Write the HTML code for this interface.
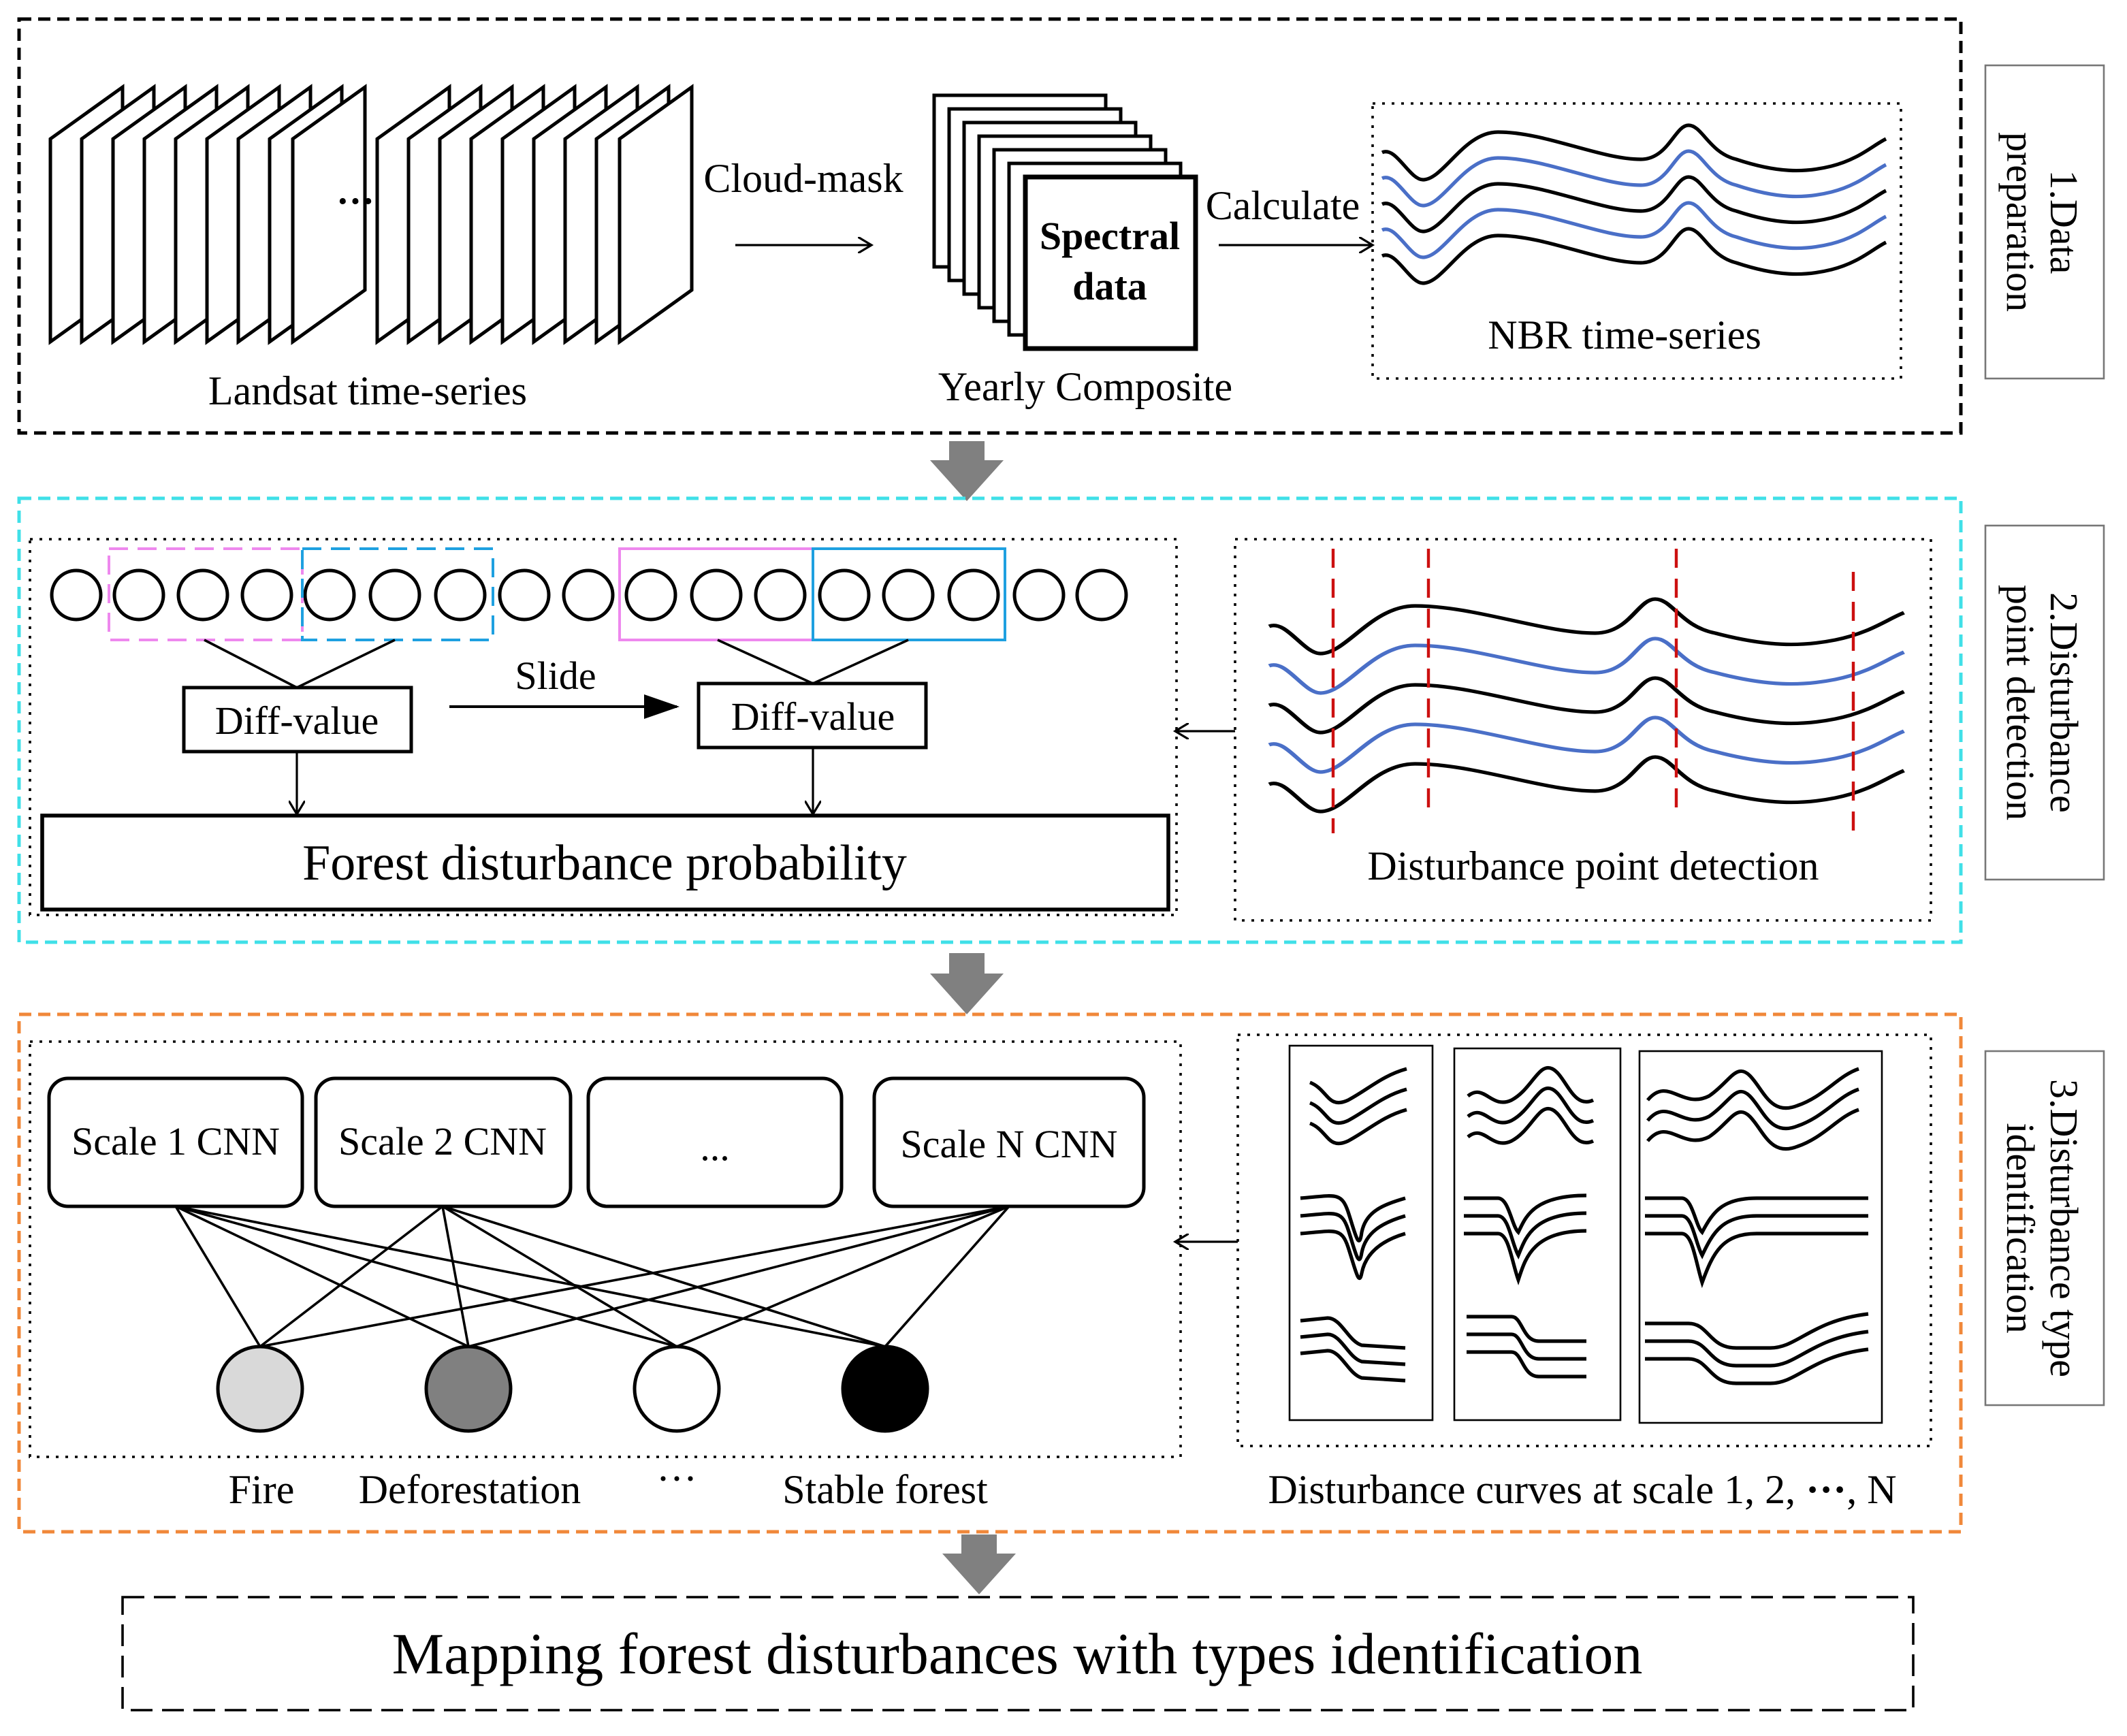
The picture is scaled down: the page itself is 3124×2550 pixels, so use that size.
<!DOCTYPE html>
<html><head><meta charset="utf-8"><style>html,body{margin:0;padding:0;background:#fff}svg{display:block}</style></head><body>
<svg width="3124" height="2550" viewBox="0 0 1562 1275" xmlns="http://www.w3.org/2000/svg" font-family="Liberation Serif, serif">
<defs>
<path id="w" fill="none" stroke-width="2.6" d="M0,0 C10,-5 20,20 30,20 C45,20 60,-15 85,-15 C120,-15 160,5 190,5 C210,5 215,-20 225,-20 C235,-20 240,0 260,5 C290,15 310,15 330,10 C350,5 360,-5 370,-10"/>
<marker id="oa" markerWidth="12" markerHeight="12" refX="10" refY="6" orient="auto" markerUnits="userSpaceOnUse"><path d="M0,0 L10,6 L0,12" fill="none" stroke="#000" stroke-width="1.6"/></marker>
<marker id="fa" markerWidth="26" markerHeight="18" refX="24" refY="9" orient="auto" markerUnits="userSpaceOnUse"><path d="M0,0 L26,9 L0,18 Z" fill="#000"/></marker>
</defs>
<rect width="1562" height="1275" fill="#fff"/>

<!-- Section 1 -->
<rect x="14" y="14" width="1426" height="304" fill="none" stroke="#000" stroke-width="2.5" stroke-dasharray="9,5"/>
<rect x="1458" y="48" width="87" height="230" fill="none" stroke="#777" stroke-width="1.3"/>
<text transform="translate(1506,163) rotate(90)" font-size="29" text-anchor="middle">1.Data</text>
<text transform="translate(1474,163) rotate(90)" font-size="29" text-anchor="middle">preparation</text>

<g fill="#fff" stroke="#000" stroke-width="2.5">
<polygon points="37,102 90,64 90,213 37,251"/>
<polygon points="60,102 113,64 113,213 60,251"/>
<polygon points="83,102 136,64 136,213 83,251"/>
<polygon points="106,102 159,64 159,213 106,251"/>
<polygon points="129,102 182,64 182,213 129,251"/>
<polygon points="152,102 205,64 205,213 152,251"/>
<polygon points="175,102 228,64 228,213 175,251"/>
<polygon points="198,102 251,64 251,213 198,251"/>
<polygon points="215,102 268,64 268,213 215,251"/>
<polygon points="277,102 330,64 330,213 277,251"/>
<polygon points="300,102 353,64 353,213 300,251"/>
<polygon points="323,102 376,64 376,213 323,251"/>
<polygon points="346,102 399,64 399,213 346,251"/>
<polygon points="369,102 422,64 422,213 369,251"/>
<polygon points="392,102 445,64 445,213 392,251"/>
<polygon points="415,102 468,64 468,213 415,251"/>
<polygon points="438,102 491,64 491,213 438,251"/>
<polygon points="455,102 508,64 508,213 455,251"/>
</g>
<text x="261" y="157" font-size="28" text-anchor="middle" font-weight="bold">···</text>
<text x="270" y="297" font-size="30" text-anchor="middle">Landsat time-series</text>
<text x="590" y="141" font-size="30" text-anchor="middle">Cloud-mask</text>
<line x1="540" y1="180" x2="640" y2="180" stroke="#000" stroke-width="1.6" marker-end="url(#oa)"/>

<g fill="#fff" stroke="#000" stroke-width="2.5">
<rect x="686" y="70" width="126" height="126"/>
<rect x="697" y="80" width="126" height="126"/>
<rect x="708" y="90" width="126" height="126"/>
<rect x="719" y="100" width="126" height="126"/>
<rect x="730" y="110" width="126" height="126"/>
<rect x="741" y="120" width="126" height="126"/>
<rect x="753" y="130" width="125" height="126" stroke-width="3.5"/>
</g>
<text x="815" y="183" font-size="29" font-weight="bold" text-anchor="middle">Spectral</text>
<text x="815" y="220" font-size="29" font-weight="bold" text-anchor="middle">data</text>
<text x="797" y="294" font-size="30" text-anchor="middle">Yearly Composite</text>
<text x="942" y="161" font-size="30" text-anchor="middle">Calculate</text>
<line x1="895" y1="180" x2="1008" y2="180" stroke="#000" stroke-width="1.6" marker-end="url(#oa)"/>

<rect x="1008" y="76" width="388" height="202" fill="none" stroke="#000" stroke-width="1.8" stroke-dasharray="2,5"/>
<use href="#w" x="1015" y="112" stroke="#000"/>
<use href="#w" x="1015" y="131" stroke="#4a6fc7"/>
<use href="#w" x="1015" y="150" stroke="#000"/>
<use href="#w" x="1015" y="169" stroke="#4a6fc7"/>
<use href="#w" x="1015" y="188" stroke="#000"/>
<text x="1193" y="256" font-size="30" text-anchor="middle">NBR time-series</text>

<!-- gray arrows -->
<g fill="#808080">
<polygon points="697,324 723,324 723,338 737,338 710,368 683,338 697,338"/>
<polygon points="697,700 723,700 723,715 737,715 710,745 683,715 697,715"/>
<polygon points="706,1127 732,1127 732,1141 746,1141 719,1171 692,1141 706,1141"/>
</g>

<!-- Section 2 -->
<rect x="14" y="366" width="1426" height="326" fill="none" stroke="#40e0e8" stroke-width="2.5" stroke-dasharray="9,5"/>
<rect x="1458" y="386" width="87" height="260" fill="none" stroke="#777" stroke-width="1.3"/>
<text transform="translate(1506,516) rotate(90)" font-size="29" text-anchor="middle">2.Disturbance</text>
<text transform="translate(1474,516) rotate(90)" font-size="29" text-anchor="middle">point detection</text>

<rect x="22" y="396" width="842" height="276" fill="none" stroke="#000" stroke-width="1.8" stroke-dasharray="2,5"/>
<g fill="#fff" stroke="#000" stroke-width="2.5">
<circle cx="56" cy="437" r="18"/><circle cx="102" cy="437" r="18"/><circle cx="149" cy="437" r="18"/><circle cx="196" cy="437" r="18"/><circle cx="242" cy="437" r="18"/><circle cx="290" cy="437" r="18"/><circle cx="338" cy="437" r="18"/><circle cx="385" cy="437" r="18"/><circle cx="432" cy="437" r="18"/><circle cx="478" cy="437" r="18"/><circle cx="526" cy="437" r="18"/><circle cx="573" cy="437" r="18"/><circle cx="620" cy="437" r="18"/><circle cx="667" cy="437" r="18"/><circle cx="715" cy="437" r="18"/><circle cx="763" cy="437" r="18"/><circle cx="809" cy="437" r="18"/>
</g>
<rect x="80" y="403" width="142" height="67" fill="none" stroke="#ee88ee" stroke-width="2" stroke-dasharray="14,7"/>
<rect x="222" y="403" width="140" height="67" fill="none" stroke="#1ea0e0" stroke-width="2" stroke-dasharray="14,7"/>
<rect x="455" y="403" width="142" height="67" fill="none" stroke="#ee88ee" stroke-width="2"/>
<rect x="597" y="403" width="141" height="67" fill="none" stroke="#1ea0e0" stroke-width="2"/>
<g stroke="#000" stroke-width="1.8">
<line x1="150" y1="470" x2="218" y2="505"/><line x1="290" y1="470" x2="218" y2="505"/>
<line x1="527" y1="470" x2="597" y2="502"/><line x1="667" y1="470" x2="597" y2="502"/>
</g>
<rect x="135" y="505" width="167" height="47" fill="#fff" stroke="#000" stroke-width="2.5"/>
<text x="218" y="539" font-size="29" text-anchor="middle">Diff-value</text>
<rect x="513" y="502" width="167" height="47" fill="#fff" stroke="#000" stroke-width="2.5"/>
<text x="597" y="536" font-size="29" text-anchor="middle">Diff-value</text>
<text x="408" y="506" font-size="29" text-anchor="middle">Slide</text>
<line x1="330" y1="519" x2="497" y2="519" stroke="#000" stroke-width="2" marker-end="url(#fa)"/>
<line x1="218" y1="552" x2="218" y2="598" stroke="#000" stroke-width="1.6" marker-end="url(#oa)"/>
<line x1="597" y1="549" x2="597" y2="598" stroke="#000" stroke-width="1.6" marker-end="url(#oa)"/>
<rect x="31" y="599" width="827" height="69" fill="#fff" stroke="#000" stroke-width="2.8"/>
<text x="444" y="646" font-size="37" text-anchor="middle">Forest disturbance probability</text>

<rect x="907" y="396" width="511" height="280" fill="none" stroke="#000" stroke-width="1.8" stroke-dasharray="2,5"/>
<g transform="translate(932,0) scale(1.26,1)">
<use href="#w" x="0" y="460" stroke="#000"/>
<use href="#w" x="0" y="489" stroke="#4a6fc7"/>
<use href="#w" x="0" y="518" stroke="#000"/>
<use href="#w" x="0" y="547" stroke="#4a6fc7"/>
<use href="#w" x="0" y="576" stroke="#000"/>
</g>
<g stroke="#cc1010" stroke-width="2.2" stroke-dasharray="14,8">
<line x1="979" y1="403" x2="979" y2="612"/><line x1="1049" y1="403" x2="1049" y2="600"/><line x1="1231" y1="403" x2="1231" y2="600"/><line x1="1361" y1="420" x2="1361" y2="615"/>
</g>
<text x="1170" y="646" font-size="30" text-anchor="middle">Disturbance point detection</text>
<line x1="907" y1="537" x2="863" y2="537" stroke="#000" stroke-width="1.6" marker-end="url(#oa)"/>

<!-- Section 3 -->
<rect x="14" y="745" width="1426" height="380" fill="none" stroke="#f0883a" stroke-width="2.5" stroke-dasharray="9,5"/>
<rect x="1458" y="772" width="87" height="260" fill="none" stroke="#777" stroke-width="1.3"/>
<text transform="translate(1506,902) rotate(90)" font-size="29" text-anchor="middle">3.Disturbance type</text>
<text transform="translate(1474,902) rotate(90)" font-size="29" text-anchor="middle">identification</text>

<rect x="22" y="765" width="845" height="305" fill="none" stroke="#000" stroke-width="1.8" stroke-dasharray="2,5"/>
<g stroke="#000" stroke-width="1.8">
<line x1="129" y1="886" x2="191" y2="989"/><line x1="129" y1="886" x2="344" y2="989"/><line x1="129" y1="886" x2="497" y2="989"/><line x1="129" y1="886" x2="650" y2="989"/>
<line x1="325" y1="886" x2="191" y2="989"/><line x1="325" y1="886" x2="344" y2="989"/><line x1="325" y1="886" x2="497" y2="989"/><line x1="325" y1="886" x2="650" y2="989"/>
<line x1="741" y1="886" x2="191" y2="989"/><line x1="741" y1="886" x2="344" y2="989"/><line x1="741" y1="886" x2="497" y2="989"/><line x1="741" y1="886" x2="650" y2="989"/>
</g>
<g fill="#fff" stroke="#000" stroke-width="2.5">
<rect x="36" y="792" width="186" height="94" rx="14"/>
<rect x="232" y="792" width="187" height="94" rx="14"/>
<rect x="432" y="792" width="186" height="94" rx="14"/>
<rect x="642" y="792" width="198" height="94" rx="14"/>
</g>
<g font-size="29" text-anchor="middle">
<text x="129" y="848">Scale 1 CNN</text><text x="325" y="848">Scale 2 CNN</text><text x="525" y="852">...</text><text x="741" y="850">Scale N CNN</text>
</g>
<g stroke="#000" stroke-width="2.5">
<circle cx="191" cy="1020" r="31" fill="#d9d9d9"/><circle cx="344" cy="1020" r="31" fill="#808080"/><circle cx="497" cy="1020" r="31" fill="#fff"/><circle cx="650" cy="1020" r="31" fill="#000"/>
</g>
<g font-size="30" text-anchor="middle">
<text x="192" y="1104">Fire</text><text x="345" y="1104">Deforestation</text><text x="497" y="1096">···</text><text x="650" y="1104">Stable forest</text>
</g>

<rect x="909" y="760" width="509" height="302" fill="none" stroke="#000" stroke-width="1.8" stroke-dasharray="2,5"/>
<g fill="none" stroke="#000" stroke-width="1.3">
<rect x="947" y="768" width="105" height="275"/><rect x="1068" y="770" width="122" height="273"/><rect x="1204" y="772" width="178" height="273"/>
</g>
<g fill="none" stroke="#000" stroke-width="2.6">
<path d="M962,795 C975,800 975,815 990,808 C1005,800 1015,790 1033,785"/>
<path d="M962,810 C975,815 975,830 990,823 C1005,815 1015,805 1033,800"/>
<path d="M962,825 C975,830 975,845 990,838 C1005,830 1015,820 1033,815"/>
<path d="M955,880 C980,878 985,875 990,890 C995,905 998,920 1000,905 C1003,890 1015,885 1032,880"/>
<path d="M955,893 C980,891 985,888 990,903 C995,918 998,933 1000,920 C1003,905 1015,898 1032,893"/>
<path d="M955,906 C980,904 985,901 990,916 C995,931 998,946 1000,935 C1003,920 1015,911 1032,906"/>
<path d="M955,970 L975,968 C985,968 990,985 1000,988 L1032,990"/>
<path d="M955,982 L975,980 C985,980 990,997 1000,1000 L1032,1002"/>
<path d="M955,994 L975,992 C985,992 990,1009 1000,1012 L1032,1014"/>
<path d="M1078,805 C1090,795 1095,815 1110,808 C1125,800 1130,780 1140,785 C1150,790 1155,815 1170,808"/>
<path d="M1078,820 C1090,810 1095,830 1110,823 C1125,815 1130,795 1140,800 C1150,805 1155,830 1170,823"/>
<path d="M1078,835 C1090,825 1095,845 1110,838 C1125,830 1130,810 1140,815 C1150,820 1155,845 1170,838"/>
<path d="M1075,880 L1100,880 C1108,880 1110,900 1115,905 C1120,895 1125,878 1165,878"/>
<path d="M1075,893 L1100,893 C1108,893 1110,913 1115,922 C1120,910 1125,891 1165,891"/>
<path d="M1075,906 L1100,906 C1108,906 1110,926 1115,940 C1120,925 1125,904 1165,904"/>
<path d="M1077,967 L1110,967 C1118,967 1118,985 1130,985 L1165,985"/>
<path d="M1077,980 L1110,980 C1118,980 1118,998 1130,998 L1165,998"/>
<path d="M1077,993 L1110,993 C1118,993 1118,1011 1130,1011 L1165,1011"/>
<path d="M1210,808 C1225,790 1235,815 1255,805 C1270,795 1275,780 1285,790 C1295,800 1300,820 1320,812 C1340,805 1350,790 1365,785"/>
<path d="M1210,823 C1225,805 1235,830 1255,820 C1270,810 1275,795 1285,805 C1295,815 1300,835 1320,827 C1340,820 1350,805 1365,800"/>
<path d="M1210,838 C1225,820 1235,845 1255,835 C1270,825 1275,810 1285,820 C1295,830 1300,850 1320,842 C1340,835 1350,820 1365,815"/>
<path d="M1208,880 L1235,880 C1243,880 1245,900 1250,905 C1258,890 1265,880 1290,880 L1372,880"/>
<path d="M1208,893 L1235,893 C1243,893 1245,913 1250,922 C1258,905 1265,893 1290,893 L1372,893"/>
<path d="M1208,906 L1235,906 C1243,906 1245,926 1250,942 C1258,920 1265,906 1290,906 L1372,906"/>
<path d="M1208,972 L1240,972 C1255,972 1255,990 1275,990 L1300,990 C1320,990 1330,970 1372,965"/>
<path d="M1208,985 L1240,985 C1255,985 1255,1003 1275,1003 L1300,1003 C1320,1003 1330,983 1372,978"/>
<path d="M1208,998 L1240,998 C1255,998 1255,1016 1275,1016 L1300,1016 C1320,1016 1330,996 1372,991"/>
</g>
<text x="1162" y="1104" font-size="30" text-anchor="middle">Disturbance curves at scale 1, 2, <tspan font-weight="bold">···</tspan>, N</text>
<line x1="909" y1="912" x2="863" y2="912" stroke="#000" stroke-width="1.6" marker-end="url(#oa)"/>

<!-- Final -->
<rect x="90" y="1173" width="1315" height="83" fill="none" stroke="#000" stroke-width="1.8" stroke-dasharray="16,7"/>
<text x="747" y="1229" font-size="43" text-anchor="middle">Mapping forest disturbances with types identification</text>
</svg>
</body></html>
